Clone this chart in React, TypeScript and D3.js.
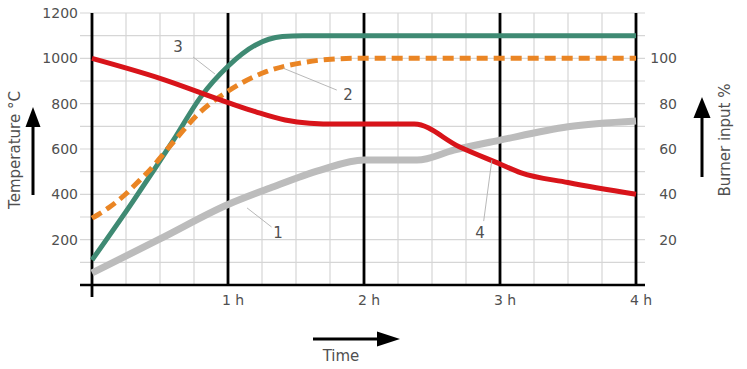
import React from "react";
import * as d3 from "d3";

// ---- data (hours, °C on left scale; right axis = °C / 10 as burner %) ----
const seriesRed: [number, number][] = [
  [0, 1000], [0.5, 912], [1, 805], [1.2, 765], [1.42, 728], [1.6, 714], [1.8, 710],
  [2.37, 710], [2.7, 610], [3, 534], [3.15, 496], [3.5, 452], [4, 400],
];
const seriesGreen: [number, number][] = [
  [0, 110], [0.3, 368], [0.6, 640], [0.8, 830], [1, 965], [1.2, 1058], [1.4, 1096],
  [1.55, 1100], [4, 1100],
];
const seriesOrange: [number, number][] = [
  [0, 295], [0.13, 344], [0.24, 397], [0.33, 450], [0.41, 498], [0.6, 632], [0.79, 760],
  [1, 855], [1.28, 941], [1.53, 979], [1.73, 995], [1.95, 1000], [4, 1000],
];
const seriesGray: [number, number][] = [
  [0, 53], [0.5, 203], [1, 355], [1.31, 428], [1.68, 507], [2, 551], [2.39, 551],
  [2.66, 595], [3, 639], [3.5, 698], [4, 724],
];

const leftTicks = [200, 400, 600, 800, 1000, 1200];
const rightTicks = [20, 40, 60, 80, 100];
const hourTicks = [1, 2, 3, 4];
const hourLabels = ["1 h", "2 h", "3 h", "4 h"];
const majorHours = [0, 1, 2, 3, 4];

// annotation labels: [label, textHour, textTemp, leaderFromHour, leaderFromTemp, leaderToHour, leaderToTemp]
const annotations: [string, number, number, number, number, number, number][] = [
  ["3", 0.632, 1028, 0.743, 1006, 0.904, 931],
  ["2", 1.882, 816, 1.80, 860, 1.404, 957],
  ["1", 1.368, 207, 1.32, 256, 1.14, 340],
  ["4", 2.853, 207, 2.88, 282, 2.94, 551],
];

const W = 747;
const H = 369;
const FONT = "'DejaVu Sans', sans-serif";
const TEXT = "#505050";

export default function App() {
  const x = d3.scaleLinear().domain([0, 4]).range([92, 636]);
  const y = d3.scaleLinear().domain([0, 1200]).range([285, 13]);
  const yR = d3.scaleLinear().domain([0, 120]).range([285, 13]);

  const line = d3
    .line<[number, number]>()
    .x((d) => x(d[0]))
    .y((d) => y(d[1]))
    .curve(d3.curveMonotoneX);

  const hGrid = d3.range(100, 1201, 100);
  const vGrid = d3.range(0, 4.001, 0.25);

  const arrowUp = (cx: number, tip: number, bottom: number, hw: number, hl: number) => (
    <g>
      <line x1={cx} x2={cx} y1={tip + hl - 2} y2={bottom} stroke="#000" strokeWidth={3} />
      <path d={`M${cx},${tip} L${cx - hw / 2},${tip + hl} L${cx + hw / 2},${tip + hl} Z`} fill="#000" />
    </g>
  );

  return (
    <svg
      width={W}
      height={H}
      style={{ position: "absolute", left: 0, top: 0, background: "#fff" }}
      fontFamily={FONT}
    >
      <rect width={W} height={H} fill="#fff" />
      {/* grid */}
      <g stroke="#d6d6d6" strokeWidth={1.2}>
        {hGrid.map((v) => (
          <line key={"h" + v} x1={80} x2={645} y1={y(v)} y2={y(v)} />
        ))}
        {vGrid.map((v) => (
          <line key={"v" + v} x1={x(v)} x2={x(v)} y1={y(1200)} y2={y(0)} />
        ))}
      </g>
      {/* major verticals */}
      <g stroke="#000" strokeWidth={2.8}>
        {majorHours.map((h) => (
          <line key={"m" + h} x1={x(h)} x2={x(h)} y1={y(1200)} y2={h === 0 ? 297 : y(0)} />
        ))}
        <line x1={80} x2={645} y1={y(0)} y2={y(0)} strokeWidth={2.6} />
      </g>

      {/* series */}
      <path d={line(seriesGray) || ""} fill="none" stroke="#bcbcbc" strokeWidth={7} />
      <path d={line(seriesGreen) || ""} fill="none" stroke="#3f8a73" strokeWidth={5} />
      <path
        d={line(seriesOrange) || ""}
        fill="none"
        stroke="#ea8524"
        strokeWidth={5}
        strokeDasharray="11 6"
      />
      <path d={line(seriesRed) || ""} fill="none" stroke="#d8141a" strokeWidth={5} />

      {/* annotations */}
      {annotations.map(([lab, th, tt, fh, ft, eh, et]) => (
        <g key={"a" + lab}>
          <line x1={x(fh)} y1={y(ft)} x2={x(eh)} y2={y(et)} stroke="#b0b0b0" strokeWidth={0.9} />
          <text x={x(th)} y={y(tt)} textAnchor="middle" fontSize={15} fill={TEXT}>
            {lab}
          </text>
        </g>
      ))}

      {/* left ticks */}
      {leftTicks.map((v) => (
        <text key={"l" + v} x={78} y={y(v) + 5} textAnchor="end" fontSize={14} fill={TEXT}>
          {v}
        </text>
      ))}
      {/* right ticks */}
      {rightTicks.map((v) => (
        <text key={"r" + v} x={677} y={yR(v) + 5} textAnchor="end" fontSize={14} fill={TEXT}>
          {v}
        </text>
      ))}
      {/* hour labels */}
      {hourTicks.map((h, i) => (
        <text key={"x" + h} x={x(h) + 5} y={305} textAnchor="middle" fontSize={14} fill={TEXT}>
          {hourLabels[i]}
        </text>
      ))}

      {/* axis titles */}
      <text
        transform="translate(20,150) rotate(-90)"
        textAnchor="middle"
        fontSize={15}
        fill={TEXT}
      >
        Temperature °C
      </text>
      {arrowUp(33, 107, 195, 15, 20)}
      <text
        transform="translate(730,140) rotate(-90)"
        textAnchor="middle"
        fontSize={15}
        fill={TEXT}
      >
        Burner input %
      </text>
      {arrowUp(702, 97, 177, 17, 21)}

      <text x={341} y={361} textAnchor="middle" fontSize={15} fill={TEXT}>
        Time
      </text>
      <g>
        <line x1={313} x2={380} y1={339} y2={339} stroke="#000" strokeWidth={3} />
        <path d="M400,339 L377,331.5 L377,346.5 Z" fill="#000" />
      </g>
    </svg>
  );
}
